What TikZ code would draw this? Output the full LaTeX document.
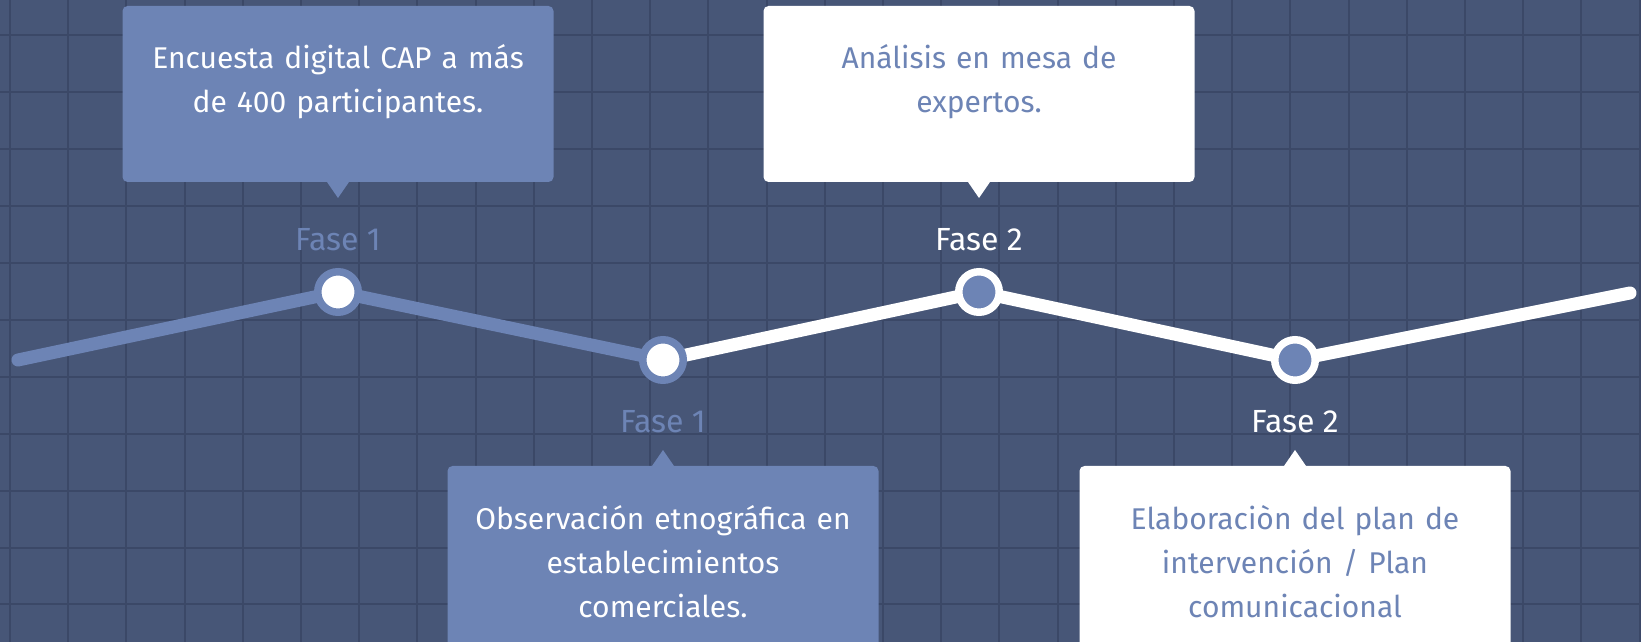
\documentclass[tikz,border=0pt]{standalone}
\usepackage{fontspec}
\setmainfont{Fira Sans}
\usetikzlibrary{positioning, calc}
\definecolor{fondo}{RGB}{71,86,119}
\definecolor{rejilla}{RGB}{59,72,103}
\definecolor{azul}{RGB}{109,132,181}

\begin{document}
\begin{tikzpicture}[x=1pt, y=1pt,
	tramo/.style={line width=13pt, line cap=round, line join=round},
	hito/.style={circle, minimum size=40.5pt, inner sep=0pt, line width=7.5pt},
	caja/.style={rounded corners=5pt, minimum width=431pt, inner sep=0pt, outer sep=0pt},
	texto/.style={text width=425pt, align=center, inner sep=0pt, font=\fontsize{30}{44}\selectfont},
	fase/.style={inner sep=0pt, font=\fontsize{32}{38}\selectfont}]
	\fill[fondo] (0,0) rectangle (1641,642);
	\useasboundingbox (0,0) rectangle (1641,642);
	% rejilla de fondo
	\foreach \i in {0,...,28}
		\draw[rejilla, line width=2pt] ({10+58.2*\i},0) -- ++(0,642);
	\foreach \j in {0,...,10}
		\draw[rejilla, line width=2pt] (0,{606.5-56.9*\j}) -- ++(1641,0);
	% linea de tiempo
	\coordinate (ini) at (18,282);
	\coordinate (p1) at (338,350);
	\coordinate (p2) at (663,282);
	\coordinate (p3) at (979,350);
	\coordinate (p4) at (1295,282);
	\coordinate (fin) at (1630,349);
	\draw[tramo, azul] (ini) -- (p1) -- (p2);
	\draw[tramo, white] (p2) -- (p3) -- (p4) -- (fin);
	\node[hito, draw=azul, fill=white] (h1) at (p1) {};
	\node[hito, draw=azul, fill=white] (h2) at (p2) {};
	\node[hito, draw=white, fill=azul] (h3) at (p3) {};
	\node[hito, draw=white, fill=azul] (h4) at (p4) {};
	\node[fase, azul, above=17pt of h1] (f1) {Fase 1};
	\node[fase, white, above=17pt of h3] (f3) {Fase 2};
	\node[fase, azul, below=26.3pt of h2] (f2) {Fase 1};
	\node[fase, white, below=26.3pt of h4] (f4) {Fase 2};
	% cajas
	\node[caja, fill=azul, minimum height=176pt, above=86pt of h1] (c1) {};
	\node[caja, fill=white, minimum height=176pt, above=86pt of h3] (c3) {};
	\node[caja, fill=azul, minimum height=200pt, below=82pt of h2] (c2) {};
	\node[caja, fill=white, minimum height=200pt, below=82pt of h4] (c4) {};
	\fill[azul] (c1.south) ++(-11,0) -- ++(22,0) -- ++(-11,-16) -- cycle;
	\fill[white] (c3.south) ++(-11,0) -- ++(22,0) -- ++(-11,-16) -- cycle;
	\fill[azul] (c2.north) ++(-11,0) -- ++(22,0) -- ++(-11,16) -- cycle;
	\fill[white] (c4.north) ++(-11,0) -- ++(22,0) -- ++(-11,16) -- cycle;
	\node[texto, white, below=38pt of c1.north] (t1) {Encuesta digital CAP a más\\ de 400 participantes.};
	\node[texto, azul, below=38pt of c3.north] (t3) {Análisis en mesa de\\ expertos.};
	\node[texto, white, below=39pt of c2.north] (t2) {Observación etnográfica en\\ establecimientos\\ comerciales.};
	\node[texto, azul, below=39pt of c4.north] (t4) {Elaboraciòn del plan de\\ intervención / Plan\\ comunicacional};
\end{tikzpicture}
\end{document}
